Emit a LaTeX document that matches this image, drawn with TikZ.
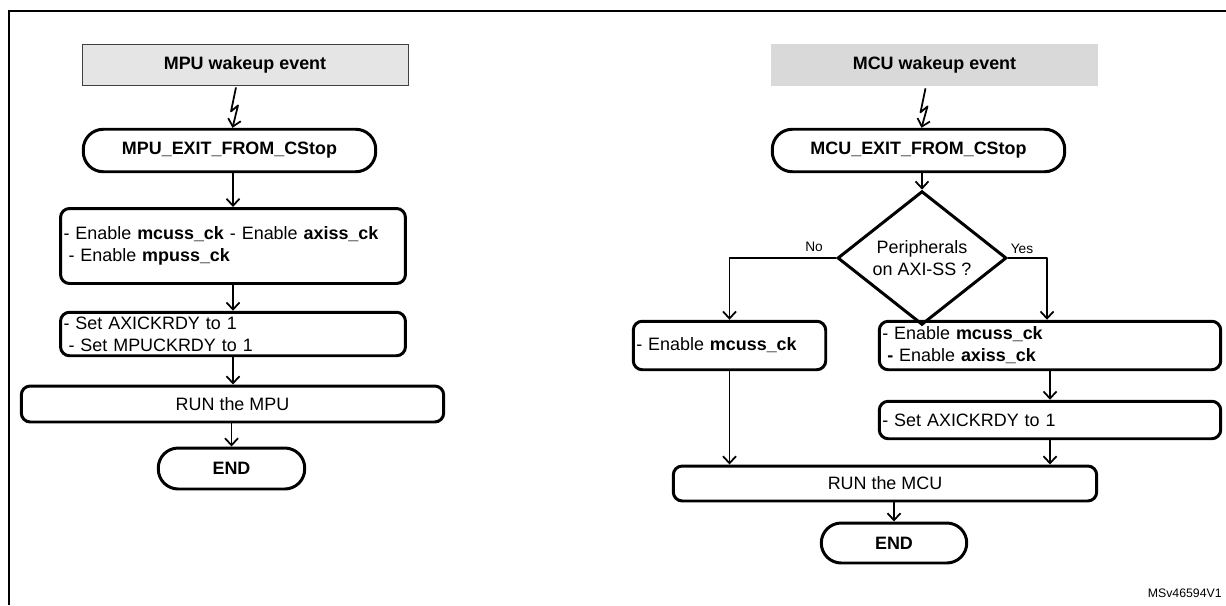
\documentclass[tikz,border=0pt]{standalone}
\usepackage{fontspec}
\setmainfont{Liberation Sans}
\usetikzlibrary{arrows.meta,calc,shapes.geometric}

\begin{document}
\fontsize{10.2}{12.5}\selectfont
\begin{tikzpicture}[x=0.02cm,y=-0.02cm,
  arr/.style={-{Straight Barb[length=1.4mm,width=2.6mm]},line width=1pt,line join=round},
  box/.style={draw,line width=1.7pt,rounded corners=0.18cm,inner sep=0pt},
  listbox/.style={box,align=left,inner xsep=0.06cm},
  term/.style={draw,line width=1.7pt,rounded corners=0.4cm,font=\bfseries,inner sep=0pt},
  event/.style={font=\bfseries,inner sep=0pt},
  choice/.style={draw,diamond,line width=1.7pt,align=center,inner sep=0pt},
  lab/.style={font=\fontsize{7.8}{9}\selectfont,inner sep=0pt}]
  \useasboundingbox (0,0) rectangle (1226,605);
  \draw[line width=1.1pt] (9,605) -- (9,11) -- (1226,11);
  % MPU side
  \node[event,fill=black!10,draw=black!75,line width=0.5pt,minimum width=6.52cm,minimum height=0.82cm] (evL) at (245,64.5) {MPU wakeup event};
  \node[term,minimum width=5.85cm,minimum height=0.85cm] (exitL) at (229.5,150.5) {MPU\_EXIT\_FROM\_CStop};
  \node[listbox,minimum width=6.9cm,minimum height=1.5cm,text width=6.78cm] (ckL) at (233,246) {- Enable \textbf{mcuss\_ck} - Enable \textbf{axiss\_ck}\\\hspace*{0.1cm}- Enable \textbf{mpuss\_ck}};
  \node[listbox,minimum width=6.9cm,minimum height=0.87cm,text width=6.78cm] (rdyL) at (233,334) {- Set AXICKRDY to 1\\\hspace*{0.1cm}- Set MPUCKRDY to 1};
  \node[box,minimum width=8.45cm,minimum height=0.72cm] (runL) at (232.5,404) {RUN the MPU};
  \node[term,minimum width=2.93cm,minimum height=0.82cm] (endL) at (231.5,468.5) {END};
  \draw[arr] ($(evL.south)+(-9,2)$) -- ++(-5,24) -- ++(7,-6) -- ($(exitL.north)+(3,0)$);
  \draw[arr] (ckL.north |- exitL.south) -- (ckL.north);
  \draw[arr] (ckL.south) -- (rdyL.north);
  \draw[arr] (rdyL.south) -- (rdyL.south |- runL.north);
  \draw[arr] (endL.north |- runL.south) -- (endL.north);
  % MCU side
  \node[event,fill=black!15,minimum width=6.54cm,minimum height=0.84cm] (evR) at (934.5,65) {MCU wakeup event};
  \node[term,minimum width=5.85cm,minimum height=0.85cm] (exitR) at (918.5,150.5) {MCU\_EXIT\_FROM\_CStop};
  \node[choice,minimum width=3.38cm,minimum height=2.02cm] (dec) at (922,258) {Peripherals\\on AXI-SS ?};
  \node[listbox,minimum width=3.85cm,minimum height=0.97cm,text width=3.73cm] (ckR1) at (729.5,345.5) {- Enable \textbf{mcuss\_ck}};
  \node[listbox,minimum width=6.83cm,minimum height=0.97cm,text width=6.71cm] (ckR2) at (1050,345.5) {- Enable \textbf{mcuss\_ck}\\\hspace*{0.1cm}\textbf{-} Enable \textbf{axiss\_ck}};
  \node[listbox,minimum width=6.83cm,minimum height=0.75cm,text width=6.71cm] (rdyR) at (1050,420) {- Set AXICKRDY to 1};
  \node[box,minimum width=8.47cm,minimum height=0.7cm] (runR) at (885,483.5) {RUN the MCU};
  \node[term,minimum width=2.91cm,minimum height=0.8cm] (endR) at (894,543) {END};
  \node[lab] (no) at (814,247) {No};
  \node[lab] (yes) at (1022,249) {Yes};
  \draw[arr] ($(evR.south)+(-9,2)$) -- ++(-5,24) -- ++(7,-6) -- ($(exitR.north)+(3,0)$);
  \draw[arr] (dec.north |- exitR.south) -- (dec.north);
  \draw[arr] (dec.west) -| (ckR1.north);
  \draw[arr] (dec.east) -| ($(ckR2.north)+(-3,0)$);
  \draw[arr] (ckR2.south) -- (rdyR.north);
  \draw[arr] (rdyR.south) -- (rdyR.south |- runR.north);
  \draw[arr] (ckR1.south) -- (ckR1.south |- runR.north);
  \draw[arr] (endR.north |- runR.south) -- (endR.north);
  \node[font=\fontsize{7}{8}\selectfont,anchor=east,inner sep=0pt] (ref) at (1222,593) {MSv46594V1};
\end{tikzpicture}
\end{document}
